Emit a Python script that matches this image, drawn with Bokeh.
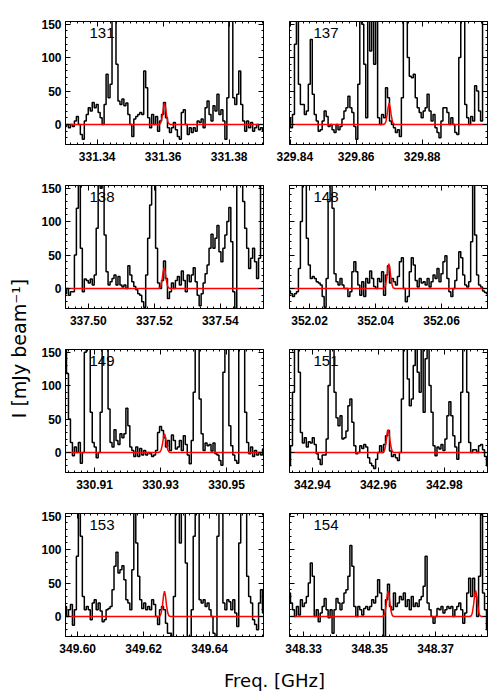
import numpy as np
from bokeh.plotting import figure
from bokeh.models import LinearAxis, FixedTicker, NumeralTickFormatter, Range1d, Label
from bokeh.layouts import row, column
from bokeh.embed import file_html
from bokeh.resources import INLINE

# ---------------- data ----------------
names = ["131", "137", "138", "148", "149", "151", "153", "154"]
# left edge of each panel's frequency window [GHz]; each window spans 0.06 GHz
f_left = [331.3304, 329.8398, 337.4931, 352.0139, 330.9012, 342.9331, 349.5963, 348.3257]
chan_width = 0.0006  # GHz per channel
x_ticks = [
    [331.34, 331.36, 331.38],
    [329.84, 329.86, 329.88],
    [337.50, 337.52, 337.54],
    [352.02, 352.04, 352.06],
    [330.91, 330.93, 330.95],
    [342.94, 342.96, 342.98],
    [349.60, 349.62, 349.64],
    [348.33, 348.35, 348.37],
]
y_ticks = [0, 50, 100, 150]
y_minor = [-30, -20, -10, 0, 10, 20, 30, 40, 50, 60, 70, 80, 90, 100, 110, 120, 130, 140, 150]

spec_131 = [-3, 0, -5, 0, -3, 5, 12, 0, -15, -22,
            5, 15, 25, 20, 33, 25, 30, 18, 10, 0,
            30, 75, 40, 60, 200, 200, 90, 35, 30, 38,
            28, 32, 15, 0, -18, 8, 12, 15, 18, 15,
            80, 55, 10, -5, 15, 0, 12, -10, 5, 15,
            33, 10, -5, -12, -5, 3, -8, -18, -22, 18,
            22, 0, -15, -5, -12, -5, -10, 5, 3, 8,
            -5, 25, 35, 15, 5, 28, 20, 45, 15, 22,
            5, -22, 40, 200, 200, 40, 30, 45, 80, 30,
            5, -10, 5, -5, 3, -10, -5, 0, -8, -5, -10]
spec_137 = [10, -5, 15, 120, 200, 60, 30, 30, 15, 20,
            60, 127, 45, 15, 5, -10, -8, 5, 20, 12,
            -3, 0, -8, -12, 0, -8, -3, 8, 20, 25,
            42, 25, 18, -3, -22, 60, 200, 150, 90, 10,
            200, 110, 200, 90, 200, 10, 0, 15, 10, 55,
            40, 5, 0, -5, -12, -8, -18, 40, 200, 200,
            100, 72, 70, 75, 40, 25, 18, 10, 20, 25,
            45, 20, 5, 15, -5, -12, -20, 5, 25, 25,
            18, 0, 10, 0, -12, -15, 100, 200, 200, 30,
            10, 0, 12, 5, 58, 50, 20, 5, 200, 200, 200]
spec_138 = [-8, 0, -10, -5, -5, 50, 120, 200, 60, -5,
            14, 12, 8, 14, 5, 20, 90, 200, 150, 200,
            80, 25, 5, 10, 15, 20, 5, 18, 5, 2,
            5, 0, 34, 20, 10, 3, -2, -8, -10, -20,
            -28, 20, 75, 125, 200, 200, 60, 8, 0, 12,
            41, 15, -15, -5, 8, 0, 12, 18, 5, 26,
            12, -5, 20, 10, 20, 31, 10, -10, -26, -8,
            8, 22, 35, 60, 81, 60, 75, 94, 55, 40,
            60, 80, 100, 121, 70, -5, -30, 200, 200, 200,
            130, 90, 60, 30, 45, 60, 40, 15, 45, 200, 200]
spec_148 = [-4, -8, -12, -8, -5, 30, 100, 200, 200, 75,
            35, 15, 18, 15, 10, 8, 5, -12, -28, 15,
            130, 200, 120, 22, 10, 5, 15, 5, 0, 0,
            -12, -5, 25, 40, 25, 5, -10, 10, -12, 15,
            8, 26, 15, 3, 0, 15, 10, 25, -10, 20,
            34, 8, 15, 10, 5, 18, 40, 46, 0, -20,
            -12, 25, 46, 35, 12, 2, 15, 8, 10, 5,
            15, 2, 10, 20, 15, 30, 10, 22, 40, 49,
            15, -5, -12, 0, 12, 30, 55, 46, 20, 5,
            2, 10, 70, 200, 80, 20, 5, 2, -4, -6, -8]
spec_149 = [200, 118, 50, 15, -5, 8, 0, 15, -16, 0,
            150, 200, 200, 60, 15, 8, -8, 0, 60, 200,
            200, 200, 65, 15, 8, 34, 18, 12, 28, 22,
            28, 66, 40, 8, 3, -6, 8, -6, 6, -4,
            3, -4, 0, -2, -6, -4, 3, 30, 39, 33,
            22, 8, 18, 3, 26, 18, 5, 8, 18, 3,
            25, 12, -4, -17, 18, 90, 200, 200, 80, 28,
            3, 14, 10, 12, 2, 14, -2, -4, -12, -19,
            120, 200, 200, 40, 10, -4, -12, -16, 180, 200,
            200, 60, 15, -2, 8, -6, 3, -4, 0, -4, 5]
spec_151 = [-20, 10, 90, 200, 200, 120, 30, 14, 22, 8,
            16, 14, 22, 12, -2, -10, -18, -4, -4, 20,
            100, 200, 200, 90, 52, 40, 55, 20, 22, 32,
            70, 80, 45, 10, -2, 0, 10, 6, 12, 8,
            -8, -16, -20, -24, -10, 0, 10, 0, 12, 25,
            33, 2, -6, -3, -8, -12, 0, 80, 200, 200,
            110, 70, 80, 130, 200, 120, 90, 200, 60, 140,
            200, 100, 60, 10, -5, 8, 5, 12, 3, 20,
            55, 76, 55, 25, 8, -10, 15, 90, 200, 200,
            90, 15, 0, 4, 4, 0, 10, 12, 4, -6, -20]
spec_153 = [15, 0, 10, 18, -13, 10, 90, 200, 120, 30,
            10, 15, 10, -5, 20, 25, 10, 20, 8, -8,
            -5, 10, 12, 15, 40, 75, 96, 65, 70, 76,
            55, 25, 20, 10, 70, 200, 110, 60, 25, 12,
            20, 10, 15, 10, 25, 18, 0, -12, 10, 15,
            10, -10, -25, -25, -30, 30, 200, 200, 110, 200,
            200, 80, -30, -30, 10, 120, 200, 200, 25, 20,
            25, 15, 20, 10, 0, -25, -35, 120, 200, 200,
            20, 10, 25, 22, 10, 25, 5, -15, 110, 200,
            200, 200, 60, 30, 20, -5, -12, -20, 20, 40, 5]
spec_154 = [35, 20, 10, 0, 15, 2, 25, 15, 20, 30,
            50, 80, 60, 0, 10, -8, 5, 15, 27, 10,
            -2, 10, -25, 10, 27, 20, 10, 20, 35, 40,
            60, 106, 75, 15, 0, 15, 10, 2, 12, 15,
            10, 15, 25, 20, 30, 55, 35, 10, -30, 25,
            48, 15, 10, 35, 15, 20, 30, 25, 35, 15,
            25, 10, 30, 15, 20, 15, 25, 30, 45, 90,
            20, 10, 0, -10, 0, 12, 10, 15, 5, 10,
            15, 12, 15, 0, 10, 15, 20, 10, -10, 5,
            35, 57, 30, 57, 30, 0, 60, 200, 35, 10, -20]
spectra = [spec_131, spec_137, spec_138, spec_148, spec_149, spec_151, spec_153, spec_154]

# fitted model lines (red): centre frequency and profile values at fixed offsets
red_dx = [-0.0018, -0.0013, -0.0010, -0.0006, -0.0003, 0.0, 0.0003, 0.0006, 0.0010, 0.0013, 0.0018]
red_centers = [[331.3604], [329.8700], [337.5230], [352.0440], [330.9312], [342.9630], [349.6263], [348.3556, 348.3821]]
red_profiles = [
    [[0, 1, 4, 15, 26, 32, 26, 15, 4, 1, 0]],
    [[0, 1, 4, 15, 26, 32, 26, 15, 4, 1, 0]],
    [[0, 1, 4, 14, 25, 31, 25, 14, 4, 1, 0]],
    [[0, 1, 5, 17, 30, 37, 30, 17, 5, 1, 0]],
    [[0, 1, 4, 13, 23, 28, 23, 13, 4, 1, 0]],
    [[0, 1, 5, 16, 28, 34, 28, 16, 5, 1, 0]],
    [[0, 1, 5, 17, 31, 38, 31, 17, 5, 1, 0]],
    [[0, 1, 5, 17, 31, 38, 31, 17, 5, 1, 0], [0, 1, 5, 18, 32, 39, 32, 18, 5, 1, 0]],
]

SPAN = 0.06
Y_MIN, Y_MAX = -30, 154

TICK_FONT = "Liberation Sans"


def style_axis(ax, show_labels, standoff):
    ax.axis_line_color = "black"
    ax.axis_line_width = 1
    ax.major_tick_in = 5
    ax.major_tick_out = 0
    ax.minor_tick_in = 2
    ax.minor_tick_out = 0
    ax.major_tick_line_color = "black"
    ax.minor_tick_line_color = "black"
    ax.major_tick_line_width = 1
    ax.minor_tick_line_width = 1
    ax.major_label_text_font = TICK_FONT
    ax.major_label_text_font_style = "bold"
    if show_labels:
        ax.major_label_text_color = "black"
        ax.major_label_text_font_size = "12px"
        ax.major_label_standoff = standoff
    else:
        ax.major_label_text_color = None
        ax.major_label_text_font_size = "1px"
        ax.major_label_standoff = 0


def make_panel(k, is_left, top_border):
    x0 = f_left[k]
    x1 = x0 + SPAN
    p = figure(frame_width=198, frame_height=123,
               x_range=Range1d(x0, x1), y_range=Range1d(Y_MIN, Y_MAX),
               x_axis_type=None, y_axis_type=None,
               output_backend="svg", toolbar_location=None,
               min_border_left=27 if is_left else 13,
               min_border_right=13 if is_left else 5,
               min_border_top=top_border, min_border_bottom=28)
    p.outline_line_color = "black"
    p.outline_line_width = 1
    p.background_fill_color = "white"
    p.border_fill_color = "white"

    xt = x_ticks[k]
    x_minor = list(np.round(np.arange(xt[0] - 0.02, xt[-1] + 0.0201, 0.002), 4))
    xticker = FixedTicker(ticks=xt, minor_ticks=x_minor)
    yticker = FixedTicker(ticks=y_ticks, minor_ticks=y_minor)

    bottom = LinearAxis(ticker=xticker, formatter=NumeralTickFormatter(format="0.00"))
    style_axis(bottom, True, 7)
    p.add_layout(bottom, "below")
    top = LinearAxis(ticker=xticker)
    style_axis(top, False, 0)
    p.add_layout(top, "above")
    left = LinearAxis(ticker=yticker)
    style_axis(left, is_left, 4)
    p.add_layout(left, "left")
    right = LinearAxis(ticker=yticker)
    style_axis(right, False, 0)
    p.add_layout(right, "right")

    spec = spectra[k]
    chan = [x0 + i * chan_width for i in range(len(spec))]
    p.step(x=chan, y=spec, mode="center", line_color="black", line_width=1.5)

    rx = [x0]
    ry = [0]
    for c, prof in zip(red_centers[k], red_profiles[k]):
        rx += [c + d for d in red_dx]
        ry += prof
    rx.append(x1)
    ry.append(0)
    p.line(x=rx, y=ry, line_color="#ff0000", line_width=1.5)

    p.add_layout(Label(x=x0 + 0.00727, y=129.5, text=names[k],
                       text_font="Liberation Sans", text_font_size="15px",
                       text_color="black"))
    return p


panels = [make_panel(k, k % 2 == 0, 21 if k < 2 else 13) for k in range(8)]

TOTAL_H = 172 + 3 * 164 + 28  # 692

# y title strip
ylab = figure(width=38, height=TOTAL_H, x_range=Range1d(0, 38), y_range=Range1d(0, TOTAL_H),
              x_axis_type=None, y_axis_type=None, output_backend="svg",
              toolbar_location=None, min_border=0)
ylab.outline_line_color = None
ylab.add_layout(Label(x=18, y=TOTAL_H - 348, text="I [mJy beam\u207b\u00b9]", angle=np.pi / 2,
                      text_align="center", text_baseline="middle",
                      text_font="DejaVu Sans", text_font_size="19px", text_color="black"))

# x title strip
xlab = figure(width=454, height=28, x_range=Range1d(0, 454), y_range=Range1d(0, 28),
              x_axis_type=None, y_axis_type=None, output_backend="svg",
              toolbar_location=None, min_border=0)
xlab.outline_line_color = None
xlab.add_layout(Label(x=236, y=12, text="Freq. [GHz]",
                      text_align="center", text_baseline="middle",
                      text_font="DejaVu Sans", text_font_size="18px", text_color="black"))

grid = column(row(panels[0], panels[1]), row(panels[2], panels[3]),
              row(panels[4], panels[5]), row(panels[6], panels[7]), xlab)
layout = row(ylab, grid)

open("out.html", "w").write(file_html(layout, INLINE))
